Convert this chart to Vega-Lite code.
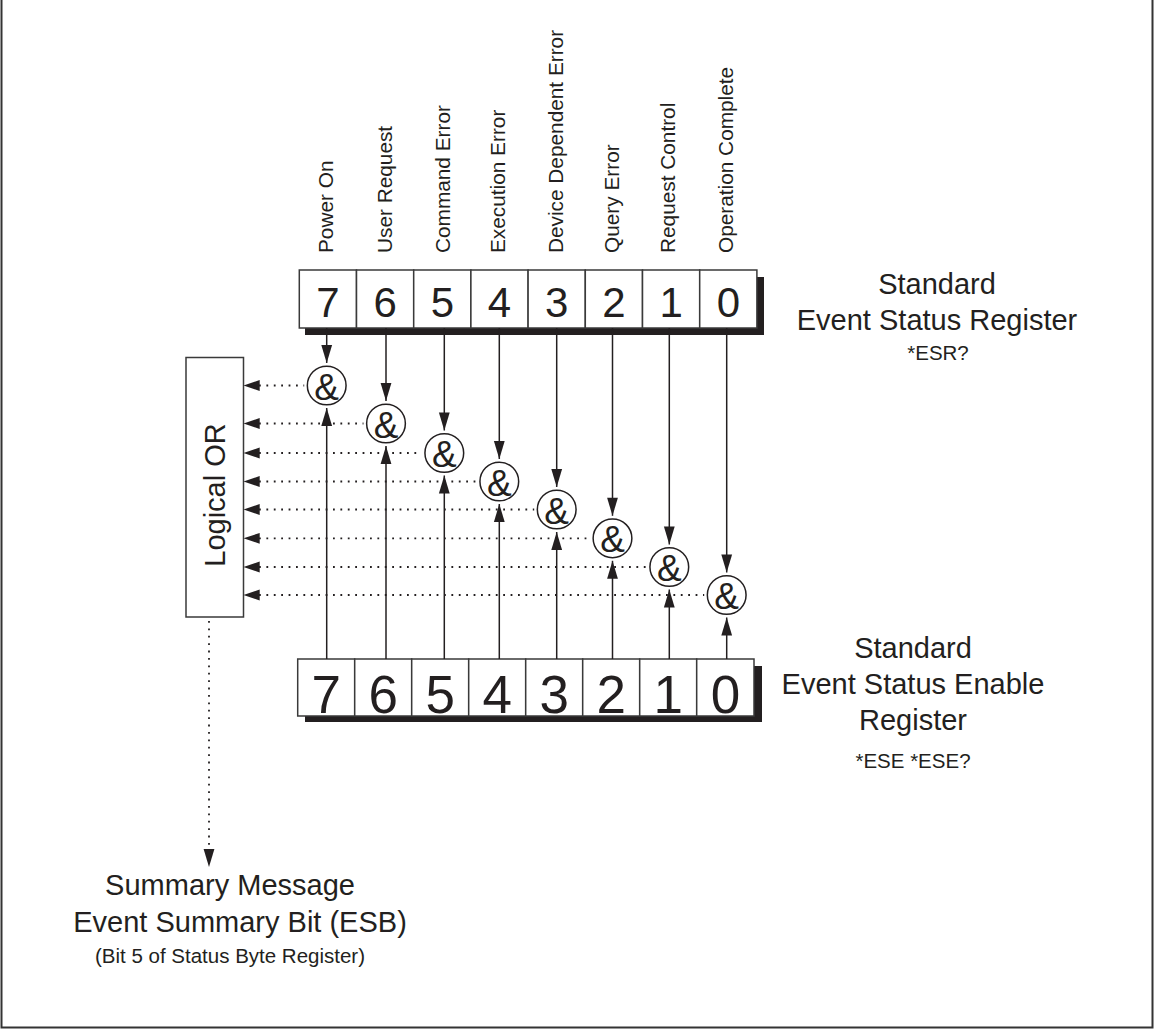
{
  "$schema": "https://vega.github.io/schema/vega-lite/v6.json",
  "width": 1154,
  "height": 1029,
  "padding": 0,
  "autosize": {"type": "none"},
  "background": "white",
  "config": {"view": {"stroke": null}, "font": "Liberation Sans"},
  "datasets": {
    "frame": [{"x1": 1.5, "x2": 1152.5, "y1": -2, "y2": 1027.5}],
    "shadows": [
      {"reg": "ESR", "x1": 305, "x2": 764, "y1": 277, "y2": 335},
      {"reg": "ESE", "x1": 305, "x2": 762, "y1": 666, "y2": 722}
    ],
    "cells": [
      {"reg": "ESR", "bit": "7", "x1": 299.3, "x2": 356.5, "xc": 327.9, "y1": 270, "y2": 328, "yb": 316.7},
      {"reg": "ESR", "bit": "6", "x1": 356.5, "x2": 413.7, "xc": 385.1, "y1": 270, "y2": 328, "yb": 316.7},
      {"reg": "ESR", "bit": "5", "x1": 413.7, "x2": 470.9, "xc": 442.3, "y1": 270, "y2": 328, "yb": 316.7},
      {"reg": "ESR", "bit": "4", "x1": 470.9, "x2": 528.1, "xc": 499.5, "y1": 270, "y2": 328, "yb": 316.7},
      {"reg": "ESR", "bit": "3", "x1": 528.1, "x2": 585.3, "xc": 556.7, "y1": 270, "y2": 328, "yb": 316.7},
      {"reg": "ESR", "bit": "2", "x1": 585.3, "x2": 642.5, "xc": 613.9, "y1": 270, "y2": 328, "yb": 316.7},
      {"reg": "ESR", "bit": "1", "x1": 642.5, "x2": 699.7, "xc": 671.1, "y1": 270, "y2": 328, "yb": 316.7},
      {"reg": "ESR", "bit": "0", "x1": 699.7, "x2": 756.9, "xc": 728.3, "y1": 270, "y2": 328, "yb": 316.7},
      {"reg": "ESE", "bit": "7", "x1": 297.7, "x2": 354.7, "xc": 326.2, "y1": 659, "y2": 716, "yb": 713},
      {"reg": "ESE", "bit": "6", "x1": 354.7, "x2": 411.7, "xc": 383.2, "y1": 659, "y2": 716, "yb": 713},
      {"reg": "ESE", "bit": "5", "x1": 411.7, "x2": 468.7, "xc": 440.2, "y1": 659, "y2": 716, "yb": 713},
      {"reg": "ESE", "bit": "4", "x1": 468.7, "x2": 525.7, "xc": 497.2, "y1": 659, "y2": 716, "yb": 713},
      {"reg": "ESE", "bit": "3", "x1": 525.7, "x2": 582.7, "xc": 554.2, "y1": 659, "y2": 716, "yb": 713},
      {"reg": "ESE", "bit": "2", "x1": 582.7, "x2": 639.7, "xc": 611.2, "y1": 659, "y2": 716, "yb": 713},
      {"reg": "ESE", "bit": "1", "x1": 639.7, "x2": 696.7, "xc": 668.2, "y1": 659, "y2": 716, "yb": 713},
      {"reg": "ESE", "bit": "0", "x1": 696.7, "x2": 754.0, "xc": 725.4, "y1": 659, "y2": 716, "yb": 713}
    ],
    "bits": [
      {"bit": 7, "name": "Power On", "x": 326.7, "cy": 385.5, "labelY": 253, "amp": 399.5},
      {"bit": 6, "name": "User Request", "x": 386.0, "cy": 423.5, "labelY": 253, "amp": 437.5},
      {"bit": 5, "name": "Command Error", "x": 444.3, "cy": 453.0, "labelY": 253, "amp": 467.0},
      {"bit": 4, "name": "Execution Error", "x": 499.3, "cy": 481.5, "labelY": 253, "amp": 495.5},
      {"bit": 3, "name": "Device Dependent Error", "x": 556.7, "cy": 509.5, "labelY": 253, "amp": 523.5},
      {"bit": 2, "name": "Query Error", "x": 612.5, "cy": 538.3, "labelY": 253, "amp": 552.3},
      {"bit": 1, "name": "Request Control", "x": 669.3, "cy": 567.0, "labelY": 253, "amp": 581.0},
      {"bit": 0, "name": "Operation Complete", "x": 726.7, "cy": 595.0, "labelY": 253, "amp": 609.0}
    ],
    "solid": [
      {"x": 326.7, "y1": 328, "y2": 363.0}, {"x": 386.0, "y1": 328, "y2": 401.0},
      {"x": 444.3, "y1": 328, "y2": 430.5}, {"x": 499.3, "y1": 328, "y2": 459.0},
      {"x": 556.7, "y1": 328, "y2": 487.0}, {"x": 612.5, "y1": 328, "y2": 515.8},
      {"x": 669.3, "y1": 328, "y2": 544.5}, {"x": 726.7, "y1": 328, "y2": 572.5},
      {"x": 326.7, "y1": 659, "y2": 408.0}, {"x": 386.0, "y1": 659, "y2": 446.0},
      {"x": 444.3, "y1": 659, "y2": 475.5}, {"x": 499.3, "y1": 659, "y2": 504.0},
      {"x": 556.7, "y1": 659, "y2": 532.0}, {"x": 612.5, "y1": 659, "y2": 560.8},
      {"x": 669.3, "y1": 659, "y2": 589.5}, {"x": 726.7, "y1": 659, "y2": 617.5}
    ],
    "dotted": [
      {"x1": 259, "x2": 304.2, "y1": 385.5, "y2": 385.5},
      {"x1": 259, "x2": 363.5, "y1": 423.5, "y2": 423.5},
      {"x1": 259, "x2": 421.8, "y1": 453.0, "y2": 453.0},
      {"x1": 259, "x2": 476.8, "y1": 481.5, "y2": 481.5},
      {"x1": 259, "x2": 534.2, "y1": 509.5, "y2": 509.5},
      {"x1": 259, "x2": 590.0, "y1": 538.3, "y2": 538.3},
      {"x1": 259, "x2": 646.8, "y1": 567.0, "y2": 567.0},
      {"x1": 259, "x2": 704.2, "y1": 595.0, "y2": 595.0},
      {"x1": 209, "x2": 209, "y1": 621, "y2": 852}
    ],
    "arrows": [
      {"dir": "down", "x": 326.7, "y": 363.0}, {"dir": "down", "x": 386.0, "y": 401.0},
      {"dir": "down", "x": 444.3, "y": 430.5}, {"dir": "down", "x": 499.3, "y": 459.0},
      {"dir": "down", "x": 556.7, "y": 487.0}, {"dir": "down", "x": 612.5, "y": 515.8},
      {"dir": "down", "x": 669.3, "y": 544.5}, {"dir": "down", "x": 726.7, "y": 572.5},
      {"dir": "up", "x": 326.7, "y": 408.0}, {"dir": "up", "x": 386.0, "y": 446.0},
      {"dir": "up", "x": 444.3, "y": 475.5}, {"dir": "up", "x": 499.3, "y": 504.0},
      {"dir": "up", "x": 556.7, "y": 532.0}, {"dir": "up", "x": 612.5, "y": 560.8},
      {"dir": "up", "x": 669.3, "y": 589.5}, {"dir": "up", "x": 726.7, "y": 617.5},
      {"dir": "left", "x": 243.5, "y": 385.5}, {"dir": "left", "x": 243.5, "y": 423.5},
      {"dir": "left", "x": 243.5, "y": 453.0}, {"dir": "left", "x": 243.5, "y": 481.5},
      {"dir": "left", "x": 243.5, "y": 509.5}, {"dir": "left", "x": 243.5, "y": 538.3},
      {"dir": "left", "x": 243.5, "y": 567.0}, {"dir": "left", "x": 243.5, "y": 595.0},
      {"dir": "down", "x": 209, "y": 867}
    ],
    "orbox": [{"x1": 186, "x2": 243.5, "y1": 357.5, "y2": 617, "label": "Logical OR", "lx": 216, "ly": 495}],
    "bigText": [
      {"text": "Standard", "x": 937, "y": 294},
      {"text": "Event Status Register", "x": 937, "y": 330},
      {"text": "Standard", "x": 913, "y": 658},
      {"text": "Event Status Enable", "x": 913, "y": 694},
      {"text": "Register", "x": 913, "y": 730},
      {"text": "Summary Message", "x": 230, "y": 895},
      {"text": "Event Summary Bit (ESB)", "x": 240, "y": 931.5}
    ],
    "smallText": [
      {"text": "*ESR?", "x": 938, "y": 360},
      {"text": "*ESE *ESE?", "x": 913, "y": 768},
      {"text": "(Bit 5 of Status Byte Register)", "x": 230, "y": 963}
    ]
  },
  "layer": [
    {
      "data": {"name": "frame"},
      "mark": {"type": "rect", "fillOpacity": 0, "stroke": "#333333", "strokeWidth": 2},
      "encoding": {
        "x": {"field": "x1", "type": "quantitative", "scale": {"domain": [0, 1154], "nice": false, "zero": false}, "axis": null},
        "x2": {"field": "x2"},
        "y": {"field": "y1", "type": "quantitative", "scale": {"domain": [0, 1029], "nice": false, "zero": false, "reverse": true}, "axis": null},
        "y2": {"field": "y2"}
      }
    },
    {
      "data": {"name": "shadows"},
      "mark": {"type": "rect", "fill": "#231f20"},
      "encoding": {
        "x": {"field": "x1", "type": "quantitative", "axis": null},
        "x2": {"field": "x2"},
        "y": {"field": "y1", "type": "quantitative", "axis": null},
        "y2": {"field": "y2"}
      }
    },
    {
      "data": {"name": "cells"},
      "mark": {"type": "rect", "fill": "white", "stroke": "#3a3a3a", "strokeWidth": 1.5},
      "encoding": {
        "x": {"field": "x1", "type": "quantitative", "axis": null},
        "x2": {"field": "x2"},
        "y": {"field": "y1", "type": "quantitative", "axis": null},
        "y2": {"field": "y2"}
      }
    },
    {
      "data": {"name": "cells"},
      "transform": [{"filter": "datum.reg === 'ESR'"}],
      "mark": {"type": "text", "fontSize": 42, "align": "center", "baseline": "alphabetic", "color": "#231f20"},
      "encoding": {
        "x": {"field": "xc", "type": "quantitative", "axis": null},
        "y": {"field": "yb", "type": "quantitative", "axis": null},
        "text": {"field": "bit"}
      }
    },
    {
      "data": {"name": "cells"},
      "transform": [{"filter": "datum.reg === 'ESE'"}],
      "mark": {"type": "text", "fontSize": 53, "align": "center", "baseline": "alphabetic", "color": "#231f20"},
      "encoding": {
        "x": {"field": "xc", "type": "quantitative", "axis": null},
        "y": {"field": "yb", "type": "quantitative", "axis": null},
        "text": {"field": "bit"}
      }
    },
    {
      "data": {"name": "solid"},
      "mark": {"type": "rule", "stroke": "#231f20", "strokeWidth": 1.5},
      "encoding": {
        "x": {"field": "x", "type": "quantitative", "axis": null},
        "y": {"field": "y1", "type": "quantitative", "axis": null},
        "y2": {"field": "y2"}
      }
    },
    {
      "data": {"name": "dotted"},
      "mark": {"type": "rule", "stroke": "#231f20", "strokeWidth": 1.8, "strokeDash": [1.8, 5.6]},
      "encoding": {
        "x": {"field": "x1", "type": "quantitative", "axis": null},
        "x2": {"field": "x2"},
        "y": {"field": "y1", "type": "quantitative", "axis": null},
        "y2": {"field": "y2"}
      }
    },
    {
      "data": {"name": "orbox"},
      "mark": {"type": "rect", "fill": "white", "stroke": "#3a3a3a", "strokeWidth": 1.5},
      "encoding": {
        "x": {"field": "x1", "type": "quantitative", "axis": null},
        "x2": {"field": "x2"},
        "y": {"field": "y1", "type": "quantitative", "axis": null},
        "y2": {"field": "y2"}
      }
    },
    {
      "data": {"name": "orbox"},
      "mark": {"type": "text", "fontSize": 29, "angle": 270, "align": "center", "baseline": "middle", "color": "#231f20"},
      "encoding": {
        "x": {"field": "lx", "type": "quantitative", "axis": null},
        "y": {"field": "ly", "type": "quantitative", "axis": null},
        "text": {"field": "label"}
      }
    },
    {
      "data": {"name": "bits"},
      "mark": {"type": "point", "shape": "circle", "size": 1500, "filled": true, "fill": "white", "stroke": "#231f20", "strokeWidth": 1.5, "opacity": 1},
      "encoding": {
        "x": {"field": "x", "type": "quantitative", "axis": null},
        "y": {"field": "cy", "type": "quantitative", "axis": null}
      }
    },
    {
      "data": {"name": "bits"},
      "mark": {"type": "text", "fontSize": 37, "align": "center", "baseline": "alphabetic", "text": "&", "color": "#231f20"},
      "encoding": {
        "x": {"field": "x", "type": "quantitative", "axis": null},
        "y": {"field": "amp", "type": "quantitative", "axis": null}
      }
    },
    {
      "data": {"name": "arrows"},
      "mark": {"type": "point", "filled": true, "size": 324, "fill": "#231f20", "strokeWidth": 0, "opacity": 1},
      "encoding": {
        "x": {"field": "x", "type": "quantitative", "axis": null},
        "y": {"field": "y", "type": "quantitative", "axis": null},
        "shape": {
          "field": "dir",
          "type": "nominal",
          "scale": {
            "domain": ["down", "up", "left"],
            "range": ["M-0.6,-2L0.6,-2L0,0Z", "M-0.6,2L0.6,2L0,0Z", "M1.8,-0.6L1.8,0.6L0,0Z"]
          },
          "legend": null
        }
      }
    },
    {
      "data": {"name": "bits"},
      "mark": {"type": "text", "fontSize": 20.8, "angle": 270, "align": "left", "baseline": "middle", "color": "#231f20"},
      "encoding": {
        "x": {"field": "x", "type": "quantitative", "axis": null},
        "y": {"field": "labelY", "type": "quantitative", "axis": null},
        "text": {"field": "name"}
      }
    },
    {
      "data": {"name": "bigText"},
      "mark": {"type": "text", "fontSize": 29, "align": "center", "baseline": "alphabetic", "color": "#231f20"},
      "encoding": {
        "x": {"field": "x", "type": "quantitative", "axis": null},
        "y": {"field": "y", "type": "quantitative", "axis": null},
        "text": {"field": "text"}
      }
    },
    {
      "data": {"name": "smallText"},
      "mark": {"type": "text", "fontSize": 20.5, "align": "center", "baseline": "alphabetic", "color": "#231f20"},
      "encoding": {
        "x": {"field": "x", "type": "quantitative", "axis": null},
        "y": {"field": "y", "type": "quantitative", "axis": null},
        "text": {"field": "text"}
      }
    }
  ]
}
